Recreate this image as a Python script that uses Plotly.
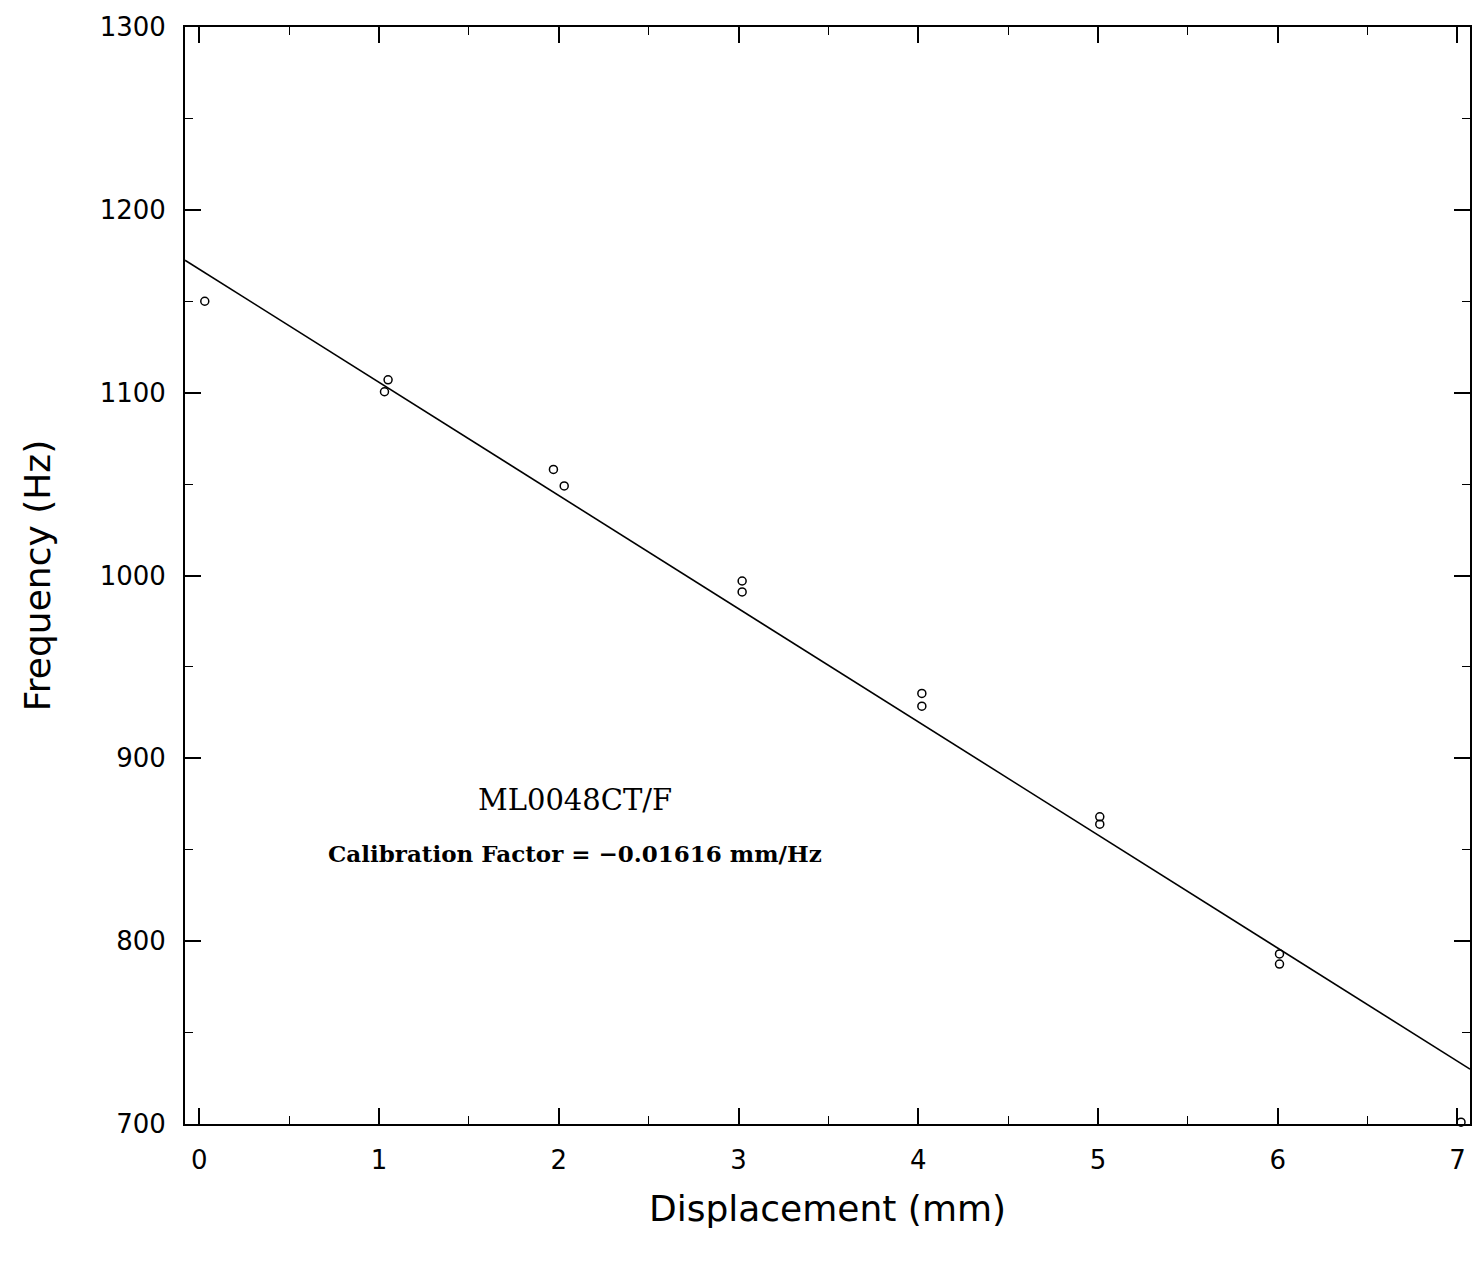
import plotly.graph_objects as go

# Measured data (displacement mm, frequency Hz)
disp = [0.03, 1.05, 1.03, 1.97, 2.03, 3.02, 3.02, 4.02, 4.02, 5.01, 5.01, 6.01, 6.01, 7.02]
freq = [1150, 1107, 1100.5, 1058, 1049, 997, 991, 935.5, 928.5, 868, 864, 793, 787.5, 701]

# Linear fit (calibration factor -0.01616 mm/Hz)
fit_x = [-0.08, 7.07]
fit_intercept = 1167.5
cal_factor = -0.01616
fit_y = [fit_intercept + x / cal_factor for x in fit_x]

x_ticks = [0, 1, 2, 3, 4, 5, 6, 7]
y_ticks = [700, 800, 900, 1000, 1100, 1200, 1300]

fig = go.Figure()
fig.add_trace(go.Scatter(x=fit_x, y=fit_y, mode="lines",
                         line=dict(color="black", width=1.6), showlegend=False))
fig.add_trace(go.Scatter(x=disp, y=freq, mode="markers", cliponaxis=False,
                         marker=dict(symbol="circle-open", size=8, color="black",
                                     line=dict(width=1.5, color="black")),
                         showlegend=False))

tickfont = dict(family="DejaVu Sans", size=26, color="black")
fig.update_xaxes(range=[-0.08, 7.07], tickvals=x_ticks, ticktext=[str(v) for v in x_ticks],
                 ticks="inside", ticklen=16, tickwidth=1.5, tickcolor="black",
                 minor=dict(ticks="inside", ticklen=8, dtick=0.5, tick0=0, tickcolor="black", tickwidth=1.2),
                 showline=True, linecolor="black", linewidth=2, mirror="allticks",
                 showgrid=False, zeroline=False, tickfont=tickfont, ticklabelstandoff=12,
                 title=dict(text="Displacement (mm)", font=dict(family="DejaVu Sans", size=36, color="black"),
                            standoff=22))
fig.update_yaxes(range=[700, 1300], tickvals=y_ticks, ticktext=[str(v) for v in y_ticks],
                 ticks="inside", ticklen=16, tickwidth=1.5, tickcolor="black",
                 minor=dict(ticks="inside", ticklen=8, dtick=50, tick0=700, tickcolor="black", tickwidth=1.2),
                 showline=True, linecolor="black", linewidth=2, mirror="allticks",
                 showgrid=False, zeroline=False, tickfont=tickfont, ticklabelstandoff=12,
                 title=dict(text="Frequency (Hz)", font=dict(family="DejaVu Sans", size=36, color="black"),
                            standoff=38))

fig.add_annotation(x=2.09, y=877, xref="x", yref="y", text="ML0048CT/F", showarrow=False,
                   font=dict(family="DejaVu Serif", size=29, color="black"))
fig.add_annotation(x=2.09, y=848, xref="x", yref="y", text="<b>Calibration Factor = −0.01616 mm/Hz</b>",
                   showarrow=False, font=dict(family="DejaVu Serif", size=23, color="black"))

fig.update_layout(width=1466, height=1247, plot_bgcolor="white", paper_bgcolor="white",
                  margin=dict(l=177, r=2, t=19, b=131))
fig.write_html("out.html")
